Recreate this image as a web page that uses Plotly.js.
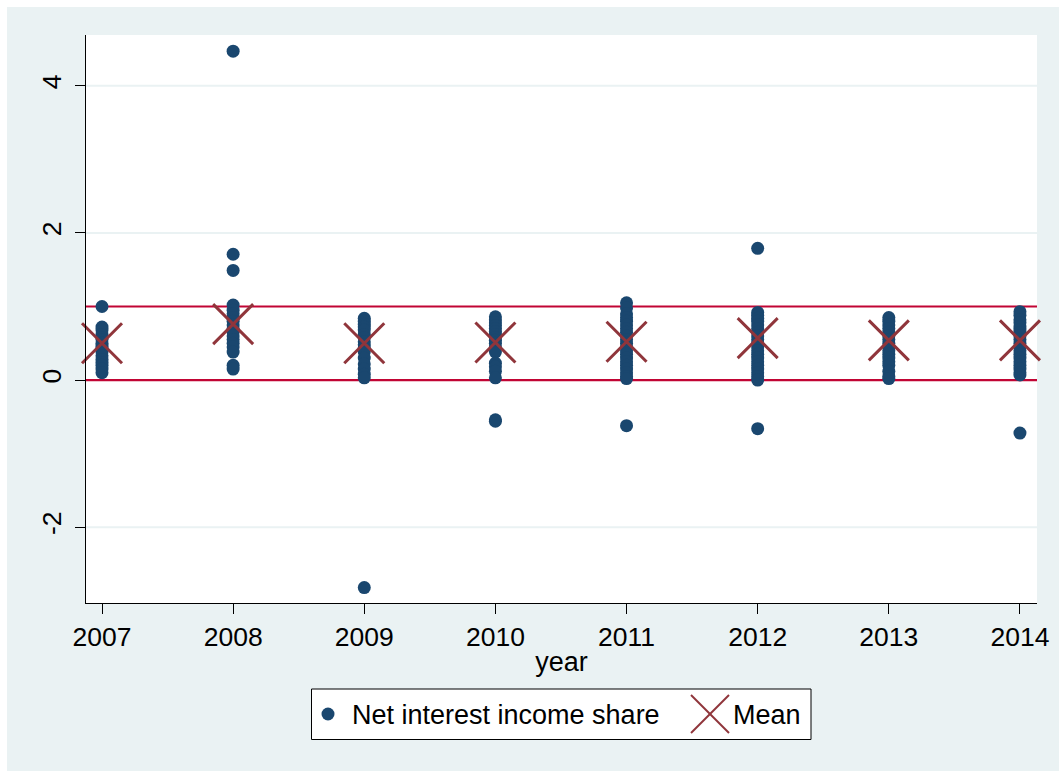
<!DOCTYPE html>
<html>
<head>
<meta charset="utf-8">
<script src="https://cdn.plot.ly/plotly-3.0.1.min.js"></script>
<style>
html,body{margin:0;padding:0;background:#ffffff;}
#chart{position:absolute;left:7px;top:7px;width:1052px;height:764px;}
</style>
</head>
<body>
<div id="chart"></div>
<script>
// Data
var years = [2007, 2008, 2009, 2010, 2011, 2012, 2013, 2014];
var v2007 = [1.0, 0.72, 0.68, 0.62, 0.58, 0.55, 0.5, 0.46, 0.42, 0.38, 0.33, 0.28, 0.24, 0.2, 0.15, 0.1];
var v2008 = [4.47, 1.71, 1.49, 1.02, 0.95, 0.9, 0.85, 0.8, 0.75, 0.7, 0.65, 0.6, 0.55, 0.5, 0.45, 0.38, 0.2, 0.15];
var v2009 = [0.84, 0.8, 0.76, 0.72, 0.68, 0.62, 0.58, 0.52, 0.48, 0.44, 0.38, 0.3, 0.22, 0.15, 0.08, 0.03, -2.82];
var v2010 = [0.86, 0.82, 0.78, 0.74, 0.7, 0.66, 0.62, 0.58, 0.54, 0.5, 0.45, 0.38, 0.23, 0.18, 0.12, 0.03, -0.54, -0.56];
var v2011 = [1.05, 0.98, 0.9, 0.85, 0.8, 0.75, 0.7, 0.65, 0.6, 0.55, 0.5, 0.45, 0.4, 0.35, 0.3, 0.25, 0.2, 0.15, 0.1, 0.05, 0.02, -0.62];
var v2012 = [1.79, 0.92, 0.88, 0.84, 0.8, 0.75, 0.7, 0.65, 0.6, 0.55, 0.5, 0.45, 0.4, 0.35, 0.3, 0.25, 0.2, 0.15, 0.1, 0.05, 0.0, -0.66];
var v2013 = [0.85, 0.8, 0.75, 0.7, 0.65, 0.6, 0.55, 0.5, 0.45, 0.4, 0.35, 0.3, 0.25, 0.2, 0.12, 0.05, 0.02];
var v2014 = [0.93, 0.88, 0.82, 0.78, 0.72, 0.68, 0.64, 0.6, 0.55, 0.5, 0.45, 0.4, 0.35, 0.3, 0.25, 0.2, 0.15, 0.1, 0.07, -0.72];
var meanValues = [0.50, 0.76, 0.50, 0.51, 0.52, 0.57, 0.54, 0.54];
var refLines = [0, 1];
var yTicks = [-2, 0, 2, 4];
var seriesName = "Net interest income share";
var meanName = "Mean";
var xTitle = "year";

var groups = [v2007, v2008, v2009, v2010, v2011, v2012, v2013, v2014];
var px = [], py = [];
groups.forEach(function (g, i) {
  g.forEach(function (v) { px.push(years[i]); py.push(v); });
});

var navy = "#1a476f";
var maroon = "#90353b";
var font = "Liberation Sans, Arial, sans-serif";

var traces = [
  {
    type: "scatter", mode: "markers", x: px, y: py, name: seriesName,
    marker: { color: navy, size: 13, line: { width: 0 } },
    cliponaxis: false, showlegend: false
  },
  {
    type: "scatter", mode: "markers", x: years, y: meanValues, name: meanName,
    marker: { symbol: "x-thin-open", size: 40, color: maroon, line: { color: maroon, width: 3 } },
    cliponaxis: false, showlegend: false
  }
];

// grid lines (drawn as shapes so the reference lines can sit on top)
var shapes = yTicks.map(function (v) {
  return { type: "line", xref: "paper", x0: 0, x1: 1, yref: "y", y0: v, y1: v,
    line: { color: "#eaf2f3", width: 2 }, layer: "below" };
});
// reference lines
refLines.forEach(function (v) {
  shapes.push({ type: "line", xref: "paper", x0: 0, x1: 1, yref: "y", y0: v, y1: v,
    line: { color: "#c10534", width: 2.2 }, layer: "below" });
});

// hand-built legend box (plot area: 951 x 568 px)
var PW = 951, PH = 568;
function fx(px_) { return (px_ - 86) / PW; }
function fy(py_) { return 1 - (py_ - 35) / PH; }
shapes.push({ type: "rect", xref: "paper", yref: "paper",
  x0: fx(311.5), x1: fx(811), y0: fy(689), y1: fy(739.5),
  fillcolor: "#ffffff", line: { color: "#000000", width: 1 }, layer: "above" });
shapes.push({ type: "circle", xref: "paper", yref: "paper",
  x0: fx(321.5), x1: fx(334.5), y0: fy(707.5), y1: fy(720.5),
  fillcolor: navy, line: { width: 0 }, layer: "above" });
shapes.push({ type: "line", xref: "paper", yref: "paper",
  x0: fx(691), x1: fx(729), y0: fy(695), y1: fy(733),
  line: { color: maroon, width: 2 }, layer: "above" });
shapes.push({ type: "line", xref: "paper", yref: "paper",
  x0: fx(691), x1: fx(729), y0: fy(733), y1: fy(695),
  line: { color: maroon, width: 2 }, layer: "above" });

var annotations = [
  { xref: "paper", yref: "paper", x: fx(350), y: fy(715), xanchor: "left", yanchor: "middle",
    text: seriesName, showarrow: false, font: { family: font, size: 27, color: "#000" } },
  { xref: "paper", yref: "paper", x: fx(731), y: fy(715), xanchor: "left", yanchor: "middle",
    text: meanName, showarrow: false, font: { family: font, size: 27, color: "#000" } }
];

var layout = {
  width: 1052, height: 764,
  paper_bgcolor: "#eaf2f3",
  plot_bgcolor: "#ffffff",
  margin: { l: 79, r: 22, t: 28, b: 168 },
  font: { family: font, size: 26, color: "#000000" },
  showlegend: false,
  xaxis: {
    range: [2006.878, 2014.13],
    tickvals: years, ticktext: years.map(String),
    ticks: "outside", ticklen: 10, tickcolor: "#000000", tickwidth: 1,
    showline: true, linecolor: "#000000", linewidth: 1,
    showgrid: false, zeroline: false,
    tickfont: { family: font, size: 26.5 },
    title: { text: xTitle, font: { family: font, size: 27 }, standoff: 1 }
  },
  yaxis: {
    range: [-3.03, 4.69],
    tickvals: yTicks, ticktext: yTicks.map(String),
    tickangle: -90,
    ticks: "outside", ticklen: 10, tickcolor: "#000000", tickwidth: 1,
    showline: true, linecolor: "#000000", linewidth: 1,
    showgrid: false, zeroline: false,
    ticklabelstandoff: 3,
    tickfont: { family: font, size: 26.5 }
  },
  shapes: shapes,
  annotations: annotations
};

Plotly.newPlot("chart", traces, layout, { displayModeBar: false, staticPlot: true });
</script>
</body>
</html>
